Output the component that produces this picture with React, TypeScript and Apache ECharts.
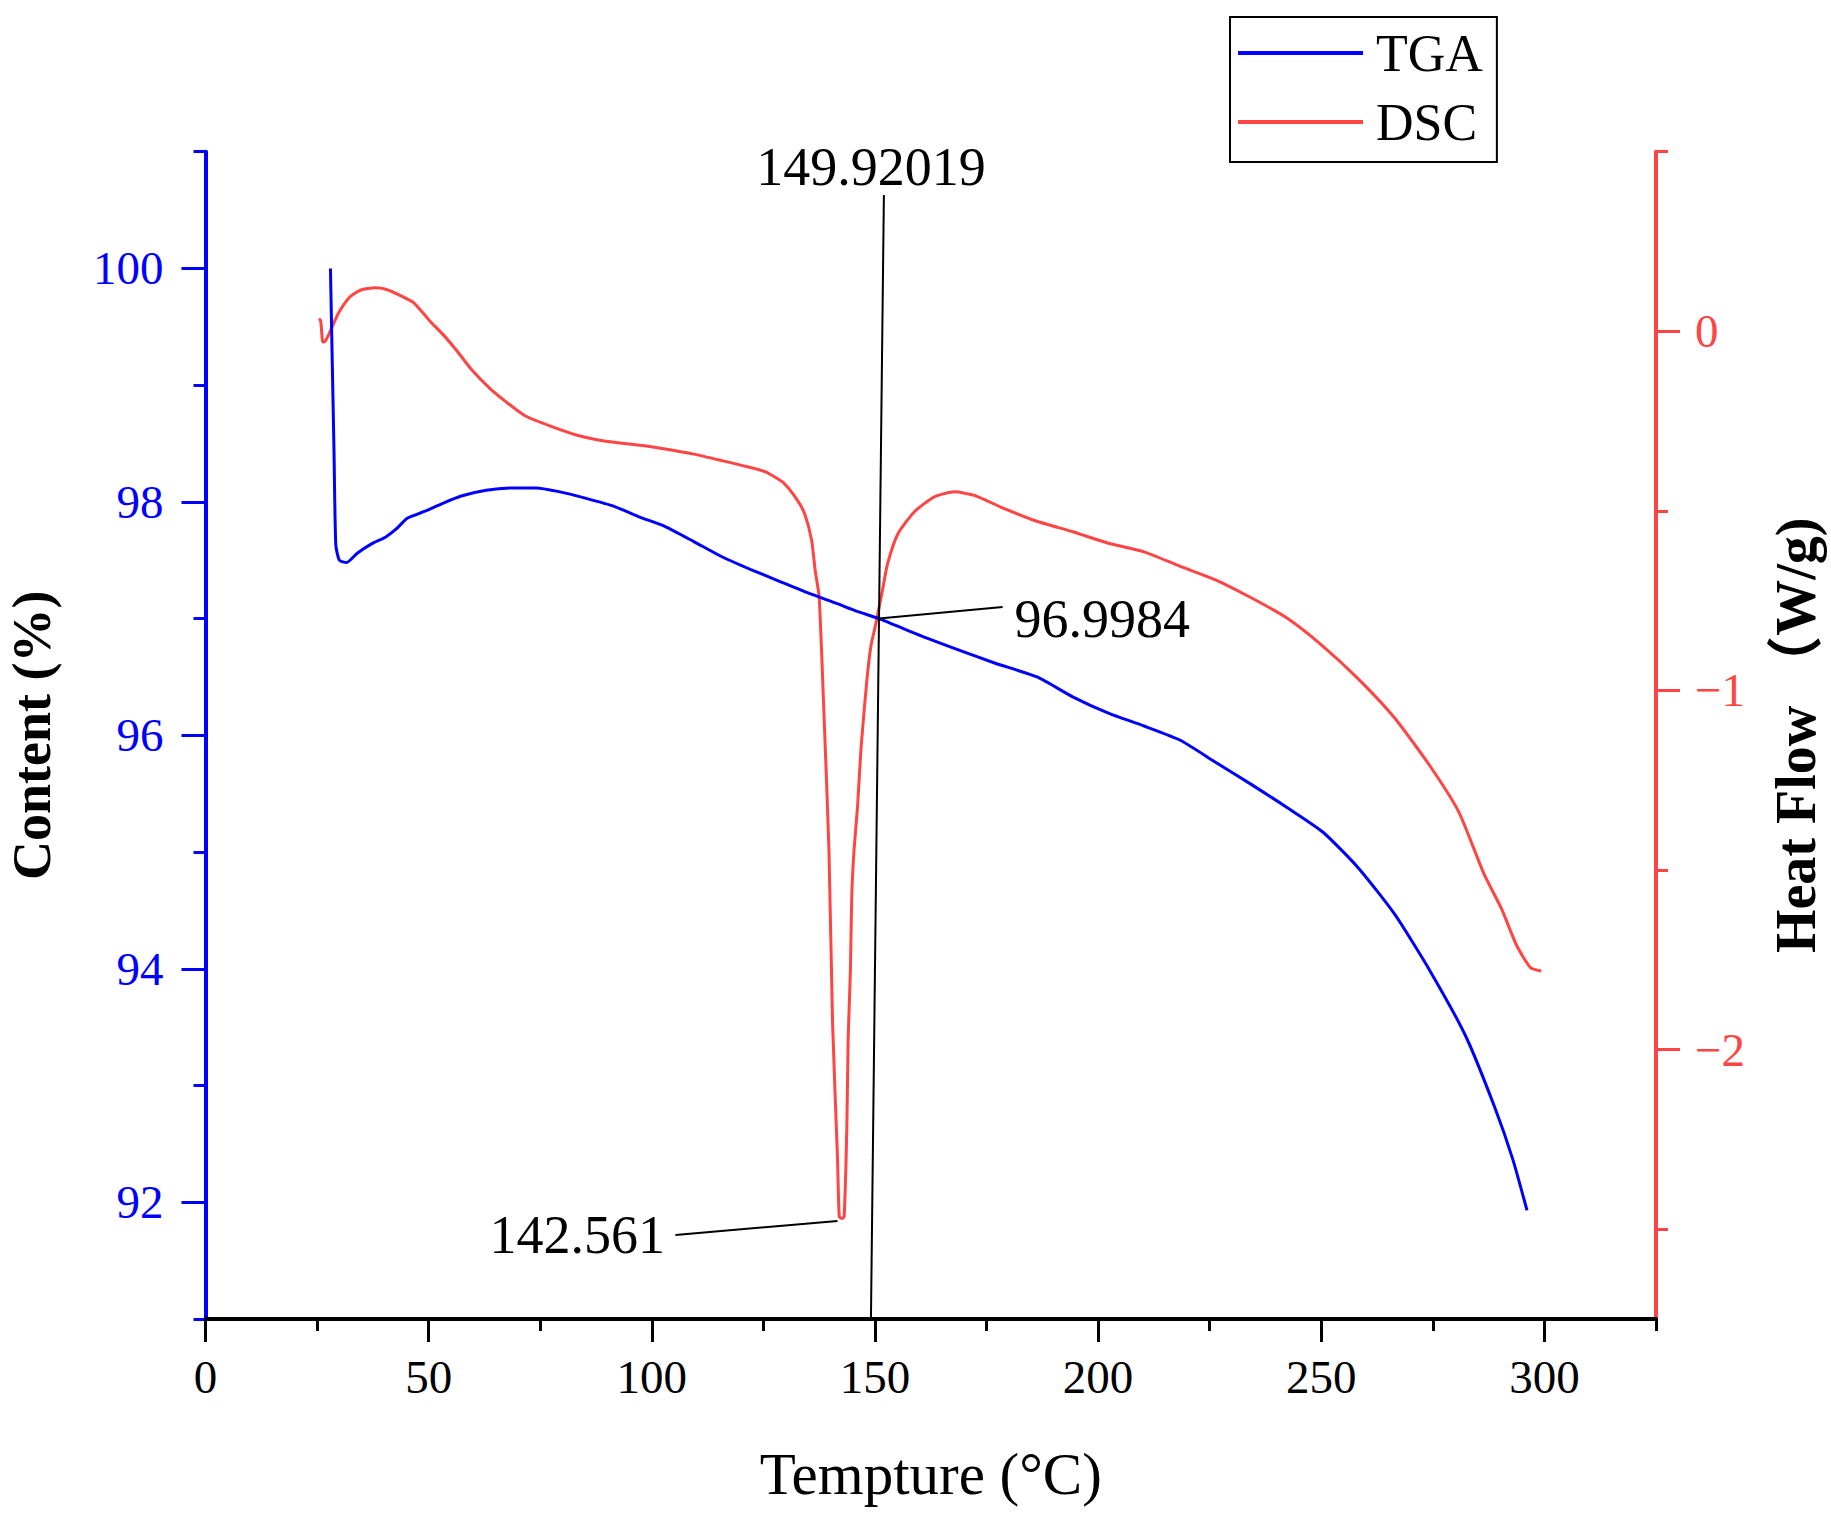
import React, { useEffect, useRef } from "react";
import * as echarts from "echarts";

const FONT = "'Liberation Serif', 'Times New Roman', 'Noto Sans CJK SC', serif";

// TGA: [temperature °C, content %]
const tgaData: number[][] = [
  [28.0, 100.0], [28.4, 99.2], [28.8, 98.42], [29.2, 97.63], [30.0, 97.5], [31.6, 97.48],
  [34.0, 97.56], [37.2, 97.64], [40.4, 97.7], [42.8, 97.77], [45.2, 97.86], [49.2, 97.92],
  [53.3, 97.99], [57.3, 98.05], [62.9, 98.1], [69.3, 98.12], [74.1, 98.12], [78.9, 98.09],
  [85.3, 98.03], [91.7, 97.96], [97.3, 97.87], [102.9, 97.79], [109.4, 97.66], [115.7, 97.53],
  [122.2, 97.42], [128.6, 97.32], [135.0, 97.22], [141.4, 97.13], [146.2, 97.06], [150.9, 97.0],
  [161.8, 96.83], [176.8, 96.62], [186.3, 96.5], [194.3, 96.33], [202.3, 96.19], [210.3, 96.08],
  [218.3, 95.96], [226.3, 95.77], [234.3, 95.58], [242.4, 95.38], [250.4, 95.17], [258.4, 94.86],
  [266.4, 94.47], [274.4, 93.98], [282.4, 93.42], [288.9, 92.81], [292.9, 92.37], [296.1, 91.93],
];

// DSC: [temperature °C, heat flow W/g]
const dscData: number[][] = [
  [25.4, 0.035], [25.8, 0.03], [26.3, -0.03], [26.8, -0.028], [27.6, -0.01], [28.4, 0.013],
  [30.0, 0.055], [32.4, 0.096], [34.8, 0.115], [38.0, 0.121], [40.4, 0.117], [44.4, 0.095],
  [46.8, 0.078], [50.1, 0.031], [53.3, -0.01], [56.5, -0.057], [59.7, -0.108], [63.7, -0.159],
  [67.7, -0.2], [71.7, -0.236], [77.3, -0.264], [83.7, -0.291], [90.1, -0.307], [97.3, -0.317],
  [103.7, -0.329], [109.4, -0.342], [115.7, -0.36], [121.4, -0.377], [125.4, -0.391], [129.4, -0.421],
  [132.6, -0.47], [134.3, -0.51], [135.8, -0.581], [136.6, -0.665], [137.5, -0.741], [138.6, -1.074],
  [139.7, -1.447], [140.5, -1.925], [141.6, -2.299], [142.0, -2.465], [142.6, -2.47], [143.1, -2.465],
  [143.7, -2.215], [144.0, -1.967], [144.5, -1.78], [144.8, -1.572], [145.3, -1.447], [146.1, -1.323],
  [146.9, -1.157], [148.2, -0.97], [149.1, -0.876], [150.2, -0.814], [151.7, -0.72], [152.8, -0.648],
  [155.1, -0.565], [158.8, -0.503], [163.3, -0.461], [167.8, -0.447], [172.3, -0.457], [178.3, -0.49],
  [186.3, -0.529], [194.3, -0.558], [202.3, -0.59], [210.3, -0.614], [218.3, -0.654], [226.3, -0.692],
  [234.3, -0.742], [242.4, -0.799], [250.4, -0.877], [258.4, -0.969], [266.4, -1.076], [274.4, -1.211],
  [280.8, -1.338], [286.4, -1.509], [290.4, -1.608], [293.7, -1.708], [296.9, -1.772], [299.3, -1.781],
];

// Axis ticks and labels
const xMajor = [0, 50, 100, 150, 200, 250, 300];
const xMinor = [25, 75, 125, 175, 225, 275, 325];
const yLeftMajor = [92, 94, 96, 98, 100];
const yLeftMinor = [91, 93, 95, 97, 99, 101];
const yRightMajor = [-2, -1, 0];
const yRightMinor = [-2.5, -1.5, -0.5, 0.5];

// Annotation leader lines in TGA (left axis) data coordinates
const annotationLines: number[][][] = [
  [[152.0, 100.63], [149.1, 91]],
  [[150.9, 97.0], [178.6, 97.1]],
  [[105.3, 91.72], [141.6, 91.84]],
];
// Annotation labels: [x, y, text, position]
const annotationLabels: [number, number, string, string][] = [
  [149.1, 100.87, "149.92019", "inside"],
  [178.9, 97.0, "96.9984", "right"],
  [105.3, 91.72, "142.561", "left"],
];

const BLUE = "#0000ff";
const RED = "#ff4444";

export default function App() {
  const ref = useRef<HTMLDivElement>(null);
  useEffect(() => {
    if (!ref.current) return;
    const chart = echarts.init(ref.current, undefined, { renderer: "svg" });
    const minus = (v: number) => (v < 0 ? "\u2212" + Math.abs(v) : String(v));
    chart.setOption({
      animation: false,
      backgroundColor: "#ffffff",
      grid: {
        left: 205.5,
        right: 175,
        top: 151.7,
        bottom: 196,
        containLabel: false,
        outerBoundsMode: "none",
      },
      legend: {
        orient: "vertical",
        left: 1230,
        top: 17,
        padding: [8, 14, 12, 8],
        itemWidth: 125,
        itemHeight: 4,
        itemGap: 13,
        borderColor: "#000",
        borderWidth: 2,
        textStyle: { fontSize: 52, lineHeight: 56, fontFamily: FONT, color: "#000", padding: [0, 0, 0, 8] },
        data: [
          { name: "TGA", icon: "rect" },
          { name: "DSC", icon: "rect" },
        ],
      },
      xAxis: [
        {
          type: "value",
          min: 0,
          max: 325,
          position: "bottom",
          axisLine: { show: true, onZero: false, lineStyle: { color: "#000", width: 4 } },
          axisTick: { show: true, customValues: xMajor, length: 23, lineStyle: { color: "#000", width: 3 } },
          axisLabel: { customValues: xMajor, fontSize: 47, color: "#000", fontFamily: FONT, margin: 34 },
          splitLine: { show: false },
          name: "Tempture (°C)",
          nameLocation: "middle",
          nameGap: 125,
          nameTextStyle: { fontSize: 59, color: "#000", fontFamily: FONT },
        },
        {
          type: "value",
          min: 0,
          max: 325,
          position: "bottom",
          axisLine: { show: false, onZero: false },
          axisTick: { show: true, customValues: xMinor, length: 12, lineStyle: { color: "#000", width: 3 } },
          axisLabel: { show: false },
          splitLine: { show: false },
        },
      ],
      yAxis: [
        {
          type: "value",
          min: 91,
          max: 101,
          position: "left",
          axisLine: { show: true, onZero: false, lineStyle: { color: BLUE, width: 4 } },
          axisTick: { show: true, customValues: yLeftMajor, length: 24, lineStyle: { color: BLUE, width: 3 } },
          axisLabel: { customValues: yLeftMajor, fontSize: 47, color: BLUE, fontFamily: FONT, margin: 42 },
          splitLine: { show: false },
          name: "Content (%)",
          nameLocation: "middle",
          nameGap: 148,
          nameTextStyle: { fontSize: 54, lineHeight: 52, fontWeight: "bold", color: "#000", fontFamily: FONT },
        },
        {
          type: "value",
          min: 91,
          max: 101,
          position: "left",
          axisLine: { show: false, onZero: false },
          axisTick: { show: true, customValues: yLeftMinor, length: 12, lineStyle: { color: BLUE, width: 3 } },
          axisLabel: { show: false },
          splitLine: { show: false },
        },
        {
          type: "value",
          min: -2.75,
          max: 0.5,
          position: "right",
          axisLine: { show: true, onZero: false, lineStyle: { color: RED, width: 4 } },
          axisTick: { show: true, customValues: yRightMajor, length: 24, lineStyle: { color: RED, width: 3 } },
          axisLabel: {
            customValues: yRightMajor,
            fontSize: 47,
            color: RED,
            fontFamily: FONT,
            margin: 39,
            formatter: (v: number) => minus(v),
          },
          splitLine: { show: false },
          name: "Heat Flow （W/g)",
          nameLocation: "middle",
          nameGap: 113,
          nameTextStyle: { fontSize: 56, lineHeight: 54, fontWeight: "bold", color: "#000", fontFamily: FONT },
        },
        {
          type: "value",
          min: -2.75,
          max: 0.5,
          position: "right",
          axisLine: { show: false, onZero: false },
          axisTick: { show: true, customValues: yRightMinor, length: 12, lineStyle: { color: RED, width: 3 } },
          axisLabel: { show: false },
          splitLine: { show: false },
        },
      ],
      series: [
        {
          name: "TGA",
          type: "line",
          xAxisIndex: 0,
          yAxisIndex: 0,
          data: tgaData,
          showSymbol: false,
          symbol: "none",
          smooth: 0.2,
          color: BLUE,
          lineStyle: { color: BLUE, width: 3 },
          z: 3,
          markLine: {
            silent: true,
            symbol: ["none", "none"],
            label: { show: false },
            lineStyle: { color: "#000", width: 2, type: "solid" },
            data: annotationLines.map((l) => [{ coord: l[0] }, { coord: l[1] }]),
          },
          markPoint: {
            silent: true,
            symbol: "circle",
            symbolSize: 1,
            itemStyle: { color: "rgba(0,0,0,0)" },
            data: annotationLabels.map(([x, y, t, pos]) => ({
              coord: [x, y],
              value: t,
              label: {
                show: true,
                position: pos,
                distance: 10,
                formatter: t,
                fontSize: 54,
                color: "#000",
                fontFamily: FONT,
              },
            })),
          },
        },
        {
          name: "DSC",
          type: "line",
          xAxisIndex: 0,
          yAxisIndex: 2,
          data: dscData,
          showSymbol: false,
          symbol: "none",
          smooth: 0.2,
          color: RED,
          lineStyle: { color: RED, width: 3 },
          z: 2,
        },
      ],
    });
    return () => chart.dispose();
  }, []);
  return (
    <div
      ref={ref}
      style={{ position: "fixed", left: 0, top: 0, width: 1831, height: 1515, background: "#fff" }}
    />
  );
}
